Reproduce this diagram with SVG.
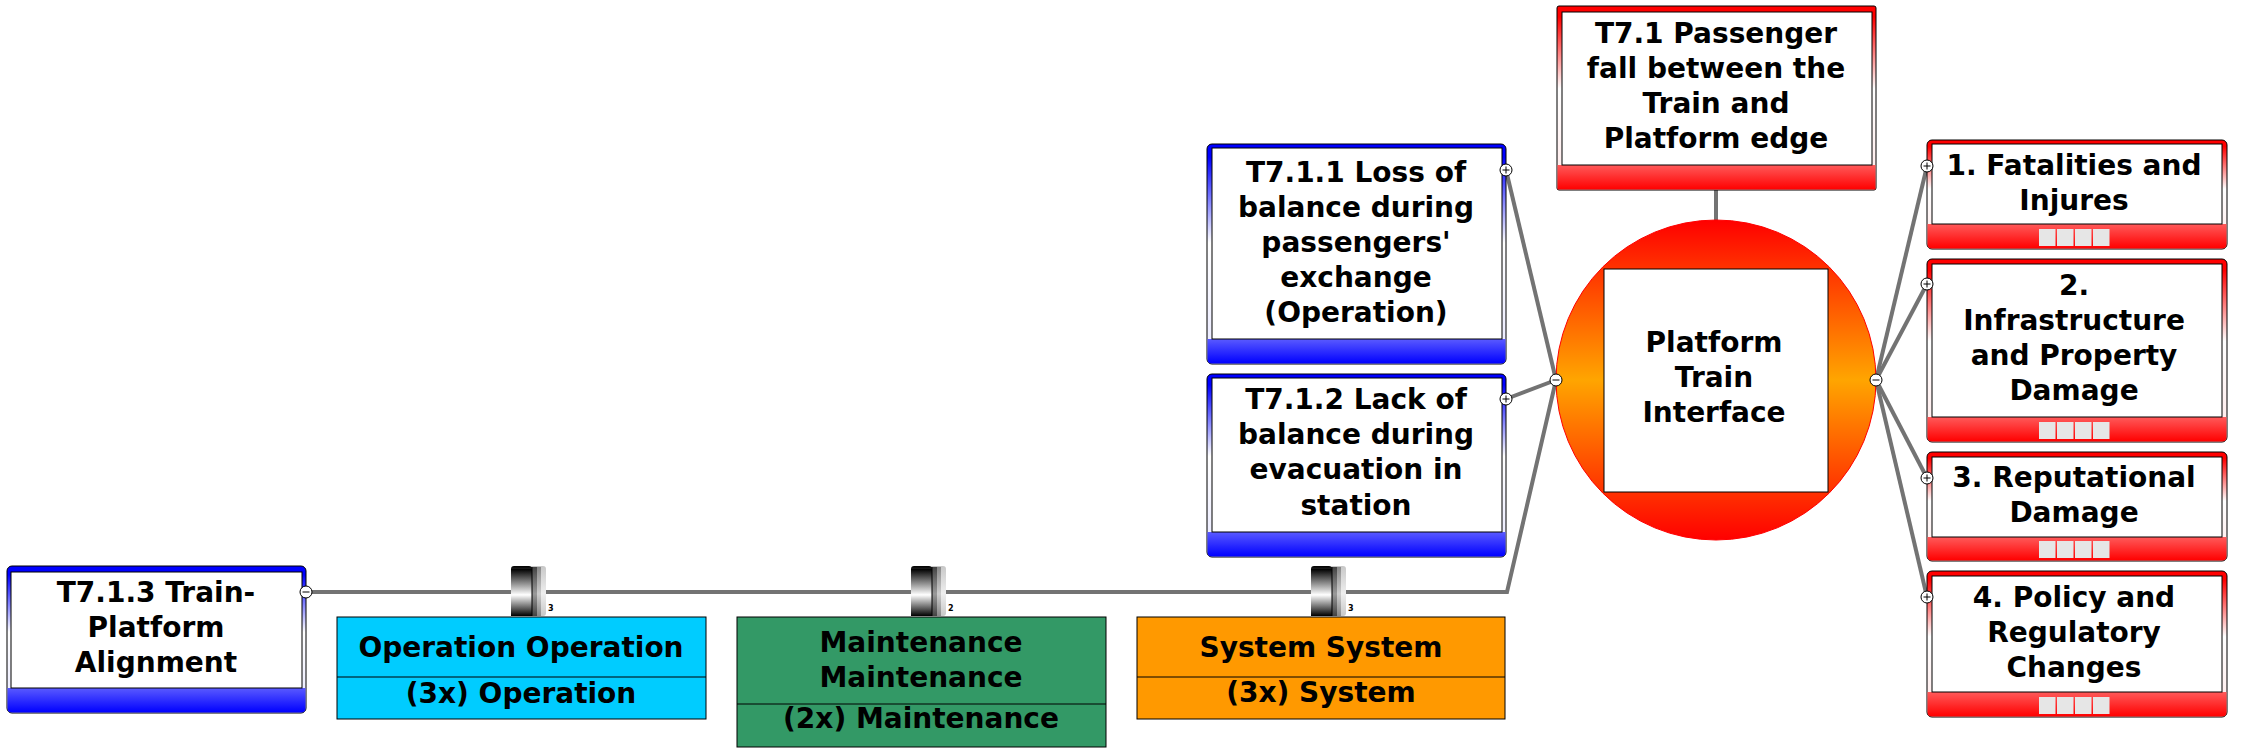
<svg xmlns="http://www.w3.org/2000/svg" width="2257" height="753" viewBox="0 0 2257 753">
<style>
.t{font-family:"DejaVu Sans",Verdana,sans-serif;font-weight:bold;font-size:28px;text-anchor:middle;fill:#000}
.n{font-family:"DejaVu Sans",Verdana,sans-serif;font-weight:bold;font-size:8px;fill:#000}
.frameB{fill:url(#gFrameB);stroke:#000;stroke-width:1}
.frameR{fill:url(#gFrameR);stroke:#000;stroke-width:1}
.bandB{fill:url(#gBandB)}
.bandR{fill:url(#gBandR)}
.inner{fill:#fff;stroke:#000;stroke-width:1}
.conn{fill:none;stroke:#737373;stroke-width:4;stroke-linejoin:miter}
.sq{fill:#e6e6e6}
.bx{stroke:#000;stroke-width:1}
</style>
<defs>
<linearGradient id="gFrameB" x1="0" y1="0" x2="0" y2="1"><stop offset="0" stop-color="#0000ff"/><stop offset="0.06" stop-color="#0000ff"/><stop offset="0.45" stop-color="#ffffff"/><stop offset="1" stop-color="#e8e8ff"/></linearGradient>
<linearGradient id="gFrameR" x1="0" y1="0" x2="0" y2="1"><stop offset="0" stop-color="#ff0000"/><stop offset="0.06" stop-color="#ff0000"/><stop offset="0.45" stop-color="#ffffff"/><stop offset="1" stop-color="#ffe8e8"/></linearGradient>
<linearGradient id="gBandB" x1="0" y1="0" x2="0" y2="1"><stop offset="0" stop-color="#5a5aff"/><stop offset="1" stop-color="#0000ff"/></linearGradient>
<linearGradient id="gBandR" x1="0" y1="0" x2="0" y2="1"><stop offset="0" stop-color="#ff5a5a"/><stop offset="1" stop-color="#ff0000"/></linearGradient>
<linearGradient id="gCircle" x1="0" y1="0" x2="0" y2="1"><stop offset="0" stop-color="#ff0000"/><stop offset="0.5" stop-color="#ffa500"/><stop offset="1" stop-color="#ff0000"/></linearGradient>
<linearGradient id="gCyl" x1="0" y1="0" x2="0" y2="1"><stop offset="0" stop-color="#000"/><stop offset="0.55" stop-color="#fff"/><stop offset="1" stop-color="#000"/></linearGradient>
<linearGradient id="gCyl2" x1="0" y1="0" x2="0" y2="1"><stop offset="0" stop-color="#444"/><stop offset="0.55" stop-color="#999"/><stop offset="1" stop-color="#444"/></linearGradient>
<linearGradient id="gCyl3" x1="0" y1="0" x2="0" y2="1"><stop offset="0" stop-color="#888"/><stop offset="0.55" stop-color="#ccc"/><stop offset="1" stop-color="#888"/></linearGradient>
<linearGradient id="gCyl4" x1="0" y1="0" x2="0" y2="1"><stop offset="0" stop-color="#c8c8c8"/><stop offset="0.55" stop-color="#eee"/><stop offset="1" stop-color="#c8c8c8"/></linearGradient>
<g id="barrier">
<rect x="19" y="0" width="16" height="50" rx="3" fill="url(#gCyl4)"/>
<rect x="19" y="1" width="11" height="49" fill="url(#gCyl3)"/>
<rect x="19" y="1" width="7" height="49" fill="url(#gCyl2)"/>
<rect x="0" y="0" width="21" height="50" rx="3" fill="url(#gCyl)"/>
<rect x="0" y="3" width="21" height="47" fill="url(#gCyl)"/>
<line x1="21" y1="1" x2="21" y2="50" stroke="#000" stroke-width="1"/>
</g>
<g id="minus"><circle r="6" fill="#fff" stroke="#000" stroke-width="1"/><line x1="-3.5" y1="0" x2="3.5" y2="0" stroke="#000" stroke-width="1"/></g>
<g id="plus"><circle r="6" fill="#fff" stroke="#000" stroke-width="1"/><line x1="-3.5" y1="0" x2="3.5" y2="0" stroke="#000" stroke-width="1"/><line x1="0" y1="-3.5" x2="0" y2="3.5" stroke="#000" stroke-width="1"/></g>
</defs>
<rect width="2257" height="753" fill="#fff"/>

<g id="connectors">
<line class="conn" x1="1716" y1="190" x2="1716" y2="221"/>
<line class="conn" x1="1556" y1="380" x2="1506" y2="170"/>
<line class="conn" x1="1556" y1="380" x2="1506" y2="399"/>
<polyline class="conn" points="1556,380 1507,592 306,592"/>
<line class="conn" x1="1876" y1="380" x2="1927" y2="166"/>
<line class="conn" x1="1876" y1="380" x2="1927" y2="284"/>
<line class="conn" x1="1876" y1="380" x2="1927" y2="478"/>
<line class="conn" x1="1876" y1="380" x2="1927" y2="597"/>
</g>

<g id="hazard-PTI">
<circle cx="1716" cy="380" r="160" fill="url(#gCircle)" stroke="#ff0000" stroke-width="1"/>
<rect class="inner" x="1604" y="269" width="224" height="223"/>
<text class="t" x="1714" y="352">Platform</text>
<text class="t" x="1714" y="387">Train</text>
<text class="t" x="1714" y="422">Interface</text>
</g>

<g id="topevent-T7.1">
<rect class="frameR" x="1557" y="6" width="319" height="184" rx="2"/>
<path class="bandR" d="M1557.5,165 H1875.5 V189.5 H1557.5 Z"/>
<rect class="inner" x="1562" y="12" width="310" height="153"/>
<text class="t" x="1716" y="43">T7.1 Passenger</text>
<text class="t" x="1716" y="78">fall between the</text>
<text class="t" x="1716" y="113">Train and</text>
<text class="t" x="1716" y="148">Platform edge</text>
</g>

<g id="threat-T7.1.1">
<rect class="frameB" x="1207" y="144" width="299" height="220" rx="5"/>
<path class="bandB" d="M1207.5,339 H1505.5 V359 Q1505.5,363.5 1501,363.5 H1212 Q1207.5,363.5 1207.5,359 Z"/>
<rect class="inner" x="1212" y="148" width="290" height="191"/>
<text class="t" x="1356" y="182">T7.1.1 Loss of</text>
<text class="t" x="1356" y="217">balance during</text>
<text class="t" x="1356" y="252">passengers'</text>
<text class="t" x="1356" y="287">exchange</text>
<text class="t" x="1356" y="322">(Operation)</text>
</g>

<g id="threat-T7.1.2">
<rect class="frameB" x="1207" y="374" width="299" height="183" rx="5"/>
<path class="bandB" d="M1207.5,532 H1505.5 V552 Q1505.5,556.5 1501,556.5 H1212 Q1207.5,556.5 1207.5,552 Z"/>
<rect class="inner" x="1212" y="378" width="290" height="154"/>
<text class="t" x="1356" y="409">T7.1.2 Lack of</text>
<text class="t" x="1356" y="444">balance during</text>
<text class="t" x="1356" y="479">evacuation in</text>
<text class="t" x="1356" y="515">station</text>
</g>

<g id="threat-T7.1.3">
<rect class="frameB" x="7" y="566" width="299" height="147" rx="5"/>
<path class="bandB" d="M7.5,688 H305.5 V708 Q305.5,712.5 301,712.5 H12 Q7.5,712.5 7.5,708 Z"/>
<rect class="inner" x="11" y="572" width="291" height="116"/>
<text class="t" x="156" y="602">T7.1.3 Train-</text>
<text class="t" x="156" y="637">Platform</text>
<text class="t" x="156" y="672">Alignment</text>
</g>

<g id="barrier-operation">
<use href="#barrier" x="511" y="566"/>
<text class="n" x="548" y="611">3</text>
<rect class="bx" x="337" y="617" width="369" height="102" fill="#00ccff"/>
<line class="bx" x1="337" y1="677" x2="706" y2="677"/>
<text class="t" x="521" y="657">Operation Operation</text>
<text class="t" x="521" y="703">(3x) Operation</text>
</g>

<g id="barrier-maintenance">
<use href="#barrier" x="911" y="566"/>
<text class="n" x="948" y="611">2</text>
<rect class="bx" x="737" y="617" width="369" height="130" fill="#339966"/>
<line class="bx" x1="737" y1="704" x2="1106" y2="704"/>
<text class="t" x="921" y="652">Maintenance</text>
<text class="t" x="921" y="687">Maintenance</text>
<text class="t" x="921" y="728">(2x) Maintenance</text>
</g>

<g id="barrier-system">
<use href="#barrier" x="1311" y="566"/>
<text class="n" x="1348" y="611">3</text>
<rect class="bx" x="1137" y="617" width="368" height="102" fill="#ff9900"/>
<line class="bx" x1="1137" y1="677" x2="1505" y2="677"/>
<text class="t" x="1321" y="657">System System</text>
<text class="t" x="1321" y="702">(3x) System</text>
</g>

<g id="consequence-1">
<rect class="frameR" x="1927" y="140" width="300" height="109" rx="5"/>
<path class="bandR" d="M1927.5,224 H2226.5 V244 Q2226.5,248.5 2222,248.5 H1932 Q1927.5,248.5 1927.5,244 Z"/>
<rect class="inner" x="1932" y="144" width="290" height="80"/>
<rect class="sq" x="2039" y="229" width="16.5" height="17"/><rect class="sq" x="2057" y="229" width="16.5" height="17"/><rect class="sq" x="2075" y="229" width="16.5" height="17"/><rect class="sq" x="2093" y="229" width="16.5" height="17"/>
<text class="t" x="2074" y="175">1. Fatalities and</text>
<text class="t" x="2074" y="210">Injures</text>
</g>

<g id="consequence-2">
<rect class="frameR" x="1927" y="259" width="300" height="183" rx="5"/>
<path class="bandR" d="M1927.5,417 H2226.5 V437 Q2226.5,441.5 2222,441.5 H1932 Q1927.5,441.5 1927.5,437 Z"/>
<rect class="inner" x="1932" y="264" width="290" height="153"/>
<rect class="sq" x="2039" y="422" width="16.5" height="17"/><rect class="sq" x="2057" y="422" width="16.5" height="17"/><rect class="sq" x="2075" y="422" width="16.5" height="17"/><rect class="sq" x="2093" y="422" width="16.5" height="17"/>
<text class="t" x="2074" y="295">2.</text>
<text class="t" x="2074" y="330">Infrastructure</text>
<text class="t" x="2074" y="365">and Property</text>
<text class="t" x="2074" y="400">Damage</text>
</g>

<g id="consequence-3">
<rect class="frameR" x="1927" y="452" width="300" height="109" rx="5"/>
<path class="bandR" d="M1927.5,537 H2226.5 V556 Q2226.5,560.5 2222,560.5 H1932 Q1927.5,560.5 1927.5,556 Z"/>
<rect class="inner" x="1932" y="457" width="290" height="80"/>
<rect class="sq" x="2039" y="541" width="16.5" height="17"/><rect class="sq" x="2057" y="541" width="16.5" height="17"/><rect class="sq" x="2075" y="541" width="16.5" height="17"/><rect class="sq" x="2093" y="541" width="16.5" height="17"/>
<text class="t" x="2074" y="487">3. Reputational</text>
<text class="t" x="2074" y="522">Damage</text>
</g>

<g id="consequence-4">
<rect class="frameR" x="1927" y="571" width="300" height="146" rx="5"/>
<path class="bandR" d="M1927.5,692 H2226.5 V712 Q2226.5,716.5 2222,716.5 H1932 Q1927.5,716.5 1927.5,712 Z"/>
<rect class="inner" x="1932" y="576" width="290" height="116"/>
<rect class="sq" x="2039" y="697" width="16.5" height="17"/><rect class="sq" x="2057" y="697" width="16.5" height="17"/><rect class="sq" x="2075" y="697" width="16.5" height="17"/><rect class="sq" x="2093" y="697" width="16.5" height="17"/>
<text class="t" x="2074" y="607">4. Policy and</text>
<text class="t" x="2074" y="642">Regulatory</text>
<text class="t" x="2074" y="677">Changes</text>
</g>

<g id="toggles">
<use href="#minus" x="1556" y="380"/>
<use href="#minus" x="1876" y="380"/>
<use href="#minus" x="306" y="592"/>
<use href="#plus" x="1506" y="170"/>
<use href="#plus" x="1506" y="399"/>
<use href="#plus" x="1927" y="166"/>
<use href="#plus" x="1927" y="284"/>
<use href="#plus" x="1927" y="478"/>
<use href="#plus" x="1927" y="597"/>
</g>
</svg>
